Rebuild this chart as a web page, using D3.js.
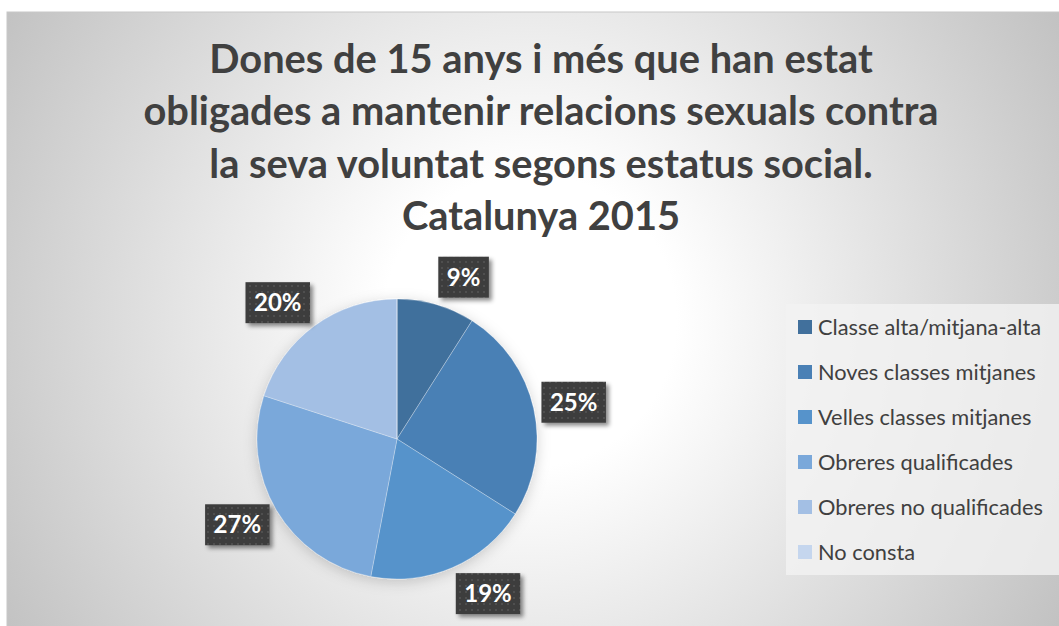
<!DOCTYPE html>
<html>
  <head>
    <meta charset="utf-8">
    <title>Dones de 15 anys i més</title>
    <script src="https://cdn.jsdelivr.net/npm/d3@7"></script>
    <style>
      body { margin: 0; background: #fff; }
      svg { display: block; }
      .title { font-family: Lato, sans-serif; font-weight: 700; font-size: 39.8px; fill: #404040; }
      .legend-text { font-family: Lato, sans-serif; font-size: 21.8px; fill: #404040; }
      .label-text { font-family: Lato, sans-serif; font-weight: 700; font-size: 24px; fill: #fff; }
    </style>
  </head>
  <body>
    <svg id="chart" width="1059" height="626"></svg>
    <script>
    var categories = ["Classe alta/mitjana-alta", "Noves classes mitjanes", "Velles classes mitjanes",
      "Obreres qualificades", "Obreres no qualificades", "No consta"];
    var values = [9, 25, 19, 27, 20, 0];
    var colors = ["#41709c", "#4a80b5", "#5693cb", "#7aa8da", "#a3bfe4", "#c5d6ee"];
    var titleLines = ["Dones de 15 anys i més que han estat",
      "obligades a mantenir relacions sexuals contra",
      "la seva voluntat segons estatus social.",
      "Catalunya 2015"];

    var width = 1059, height = 626;
    var cx = 397, cy = 439, radius = 140;

    var svg = d3.select("#chart");
    var defs = svg.append("defs");

    var bg = defs.append("radialGradient")
      .attr("id", "bg")
      .attr("gradientUnits", "userSpaceOnUse")
      .attr("cx", 530).attr("cy", 320).attr("r", 610);
    bg.append("stop").attr("offset", 0).attr("stop-color", "#ffffff");
    bg.append("stop").attr("offset", 0.24).attr("stop-color", "#ffffff");
    bg.append("stop").attr("offset", 1).attr("stop-color", "#c2c2c2");

    var dots = defs.append("pattern")
      .attr("id", "dots")
      .attr("patternUnits", "userSpaceOnUse")
      .attr("width", 6).attr("height", 6);
    dots.append("rect").attr("width", 6).attr("height", 6).attr("fill", "#3e3e3e");
    dots.append("circle").attr("cx", 3).attr("cy", 3).attr("r", 0.9).attr("fill", "#585858");

    var shadow = defs.append("filter").attr("id", "shadow")
      .attr("x", "-30%").attr("y", "-30%").attr("width", "160%").attr("height", "160%");
    shadow.append("feDropShadow").attr("dx", 3).attr("dy", 3)
      .attr("stdDeviation", 2.2).attr("flood-color", "#000").attr("flood-opacity", 0.45);

    var pieShadow = defs.append("filter").attr("id", "pieShadow")
      .attr("x", "-20%").attr("y", "-20%").attr("width", "140%").attr("height", "140%");
    pieShadow.append("feDropShadow").attr("dx", 0).attr("dy", 3)
      .attr("stdDeviation", 7).attr("flood-color", "#000").attr("flood-opacity", 0.18);

    // chart area
    svg.append("rect")
      .attr("x", 7).attr("y", 12)
      .attr("width", width).attr("height", height)
      .attr("fill", "url(#bg)")
      .attr("stroke", "#c8c8c8")
      .attr("stroke-width", 1);

    // title
    var title = svg.append("text").attr("class", "title").attr("text-anchor", "middle");
    title.selectAll("tspan")
      .data(titleLines)
      .enter().append("tspan")
      .attr("x", 541)
      .attr("y", function(d, i) { return 73 + i * 52.3; })
      .text(function(d) { return d; });

    var color = d3.scaleOrdinal().domain(categories).range(colors);

    var pie = d3.pie()
      .sort(null)
      .value(function(d) { return d.value; });

    var data = categories.map(function(c, i) { return {key: c, value: values[i]}; });
    var arcs = pie(data);

    var arc = d3.arc().innerRadius(0).outerRadius(radius);
    var labelArc = d3.arc().innerRadius(radius + 8).outerRadius(radius + 8);

    var pieG = svg.append("g")
      .attr("transform", "translate(" + cx + "," + cy + ")");

    pieG.append("g")
      .attr("filter", "url(#pieShadow)")
      .selectAll("path")
      .data(arcs)
      .enter().append("path")
      .attr("d", arc)
      .attr("fill", function(d) { return color(d.data.key); })
      .attr("stroke", "rgba(255,255,255,0.35)")
      .attr("stroke-width", 0.8);

    // data labels, outside end
    var labels = pieG.append("g")
      .selectAll("g")
      .data(arcs.filter(function(d) { return d.data.value > 0; }))
      .enter().append("g");

    labels.each(function(d) {
      var g = d3.select(this);
      var t = g.append("text")
        .attr("class", "label-text")
        .attr("text-anchor", "middle")
        .text(d.data.value + "%");
      var w = t.node().getComputedTextLength() + 17;
      var h = 41;
      var mid = (d.startAngle + d.endAngle) / 2;
      var p = labelArc.centroid(d);
      var bx = p[0] + (Math.sin(mid) >= 0 ? 1 : -1) * w / 2;
      var by = p[1] - Math.cos(mid) * h / 2;
      g.insert("rect", "text")
        .attr("x", bx - w / 2).attr("y", by - h / 2)
        .attr("width", w).attr("height", h)
        .attr("fill", "url(#dots)")
        .attr("filter", "url(#shadow)");
      t.attr("x", bx).attr("y", by + 8.5);
    });

    // legend
    var ly = d3.scalePoint().domain(categories).range([327, 552]);

    svg.append("rect")
      .attr("x", 786).attr("y", 304)
      .attr("width", width - 786).attr("height", 271)
      .attr("fill", "#f3f3f3")
      .attr("fill-opacity", 0.8);

    var legend = svg.append("g")
      .selectAll("g")
      .data(categories)
      .enter().append("g")
      .attr("transform", function(d) { return "translate(798," + ly(d) + ")"; });

    legend.append("rect")
      .attr("x", 0).attr("y", -7)
      .attr("width", 14).attr("height", 14)
      .attr("fill", function(d) { return color(d); });

    legend.append("text")
      .attr("class", "legend-text")
      .attr("x", 20).attr("y", 8)
      .text(function(d) { return d; });
    </script>
  </body>
</html>
